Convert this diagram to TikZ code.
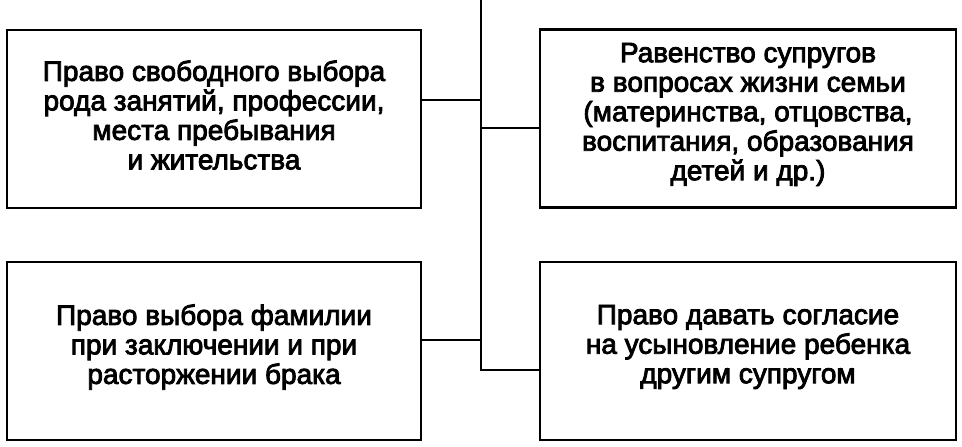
\documentclass[tikz,border=0pt]{standalone}
\usepackage{fontspec}
\setmainfont{Liberation Sans}
\newfontfamily\boxfont{Liberation Sans}[FakeBold=3]
\begin{document}
\begin{tikzpicture}[x=1pt,y=1pt,
  box/.style={draw=black, line width=2.4pt, rectangle,
    minimum height=178pt, inner sep=0pt},
  lab/.style={align=center, inner sep=0pt, yshift=4pt,
    font=\boxfont\fontsize{28}{29.5}\selectfont},
  link/.style={line width=2.2pt, line cap=rect}]
\useasboundingbox (0,0) rectangle (962,-447);
\node[box, minimum width=414pt, label={[lab]center:Право свободного выбора\\рода занятий, профессии,\\места пребывания\\и жительства}] (tl) at (214,-119) {};
\node[box, minimum width=416pt, label={[lab]center:Равенство супругов\\в вопросах жизни семьи\\(материнства, отцовства,\\воспитания, образования\\детей и др.)}] (tr) at (748,-118.5) {};
\node[box, minimum width=414pt, label={[lab]center:Право выбора фамилии\\при заключении и при\\расторжении брака}] (bl) at (214,-351) {};
\node[box, minimum width=416pt, label={[lab]center:Право давать согласие\\на усыновление ребенка\\другим супругом}] (br) at (748,-351) {};
\coordinate (top) at (481,0);
\coordinate (bot) at (481,-370);
\coordinate (c1) at (481,-100);
\coordinate (c2) at (481,-128);
\coordinate (c3) at (481,-340);
\draw[link] (top) -- (bot);
\draw[link] (tl.east |- c1) -- (c1);
\draw[link] (c2) -- (tr.west |- c2);
\draw[link] (bl.east |- c3) -- (c3);
\draw[link] (bot) -- (br.west |- bot);
\end{tikzpicture}
\end{document}
